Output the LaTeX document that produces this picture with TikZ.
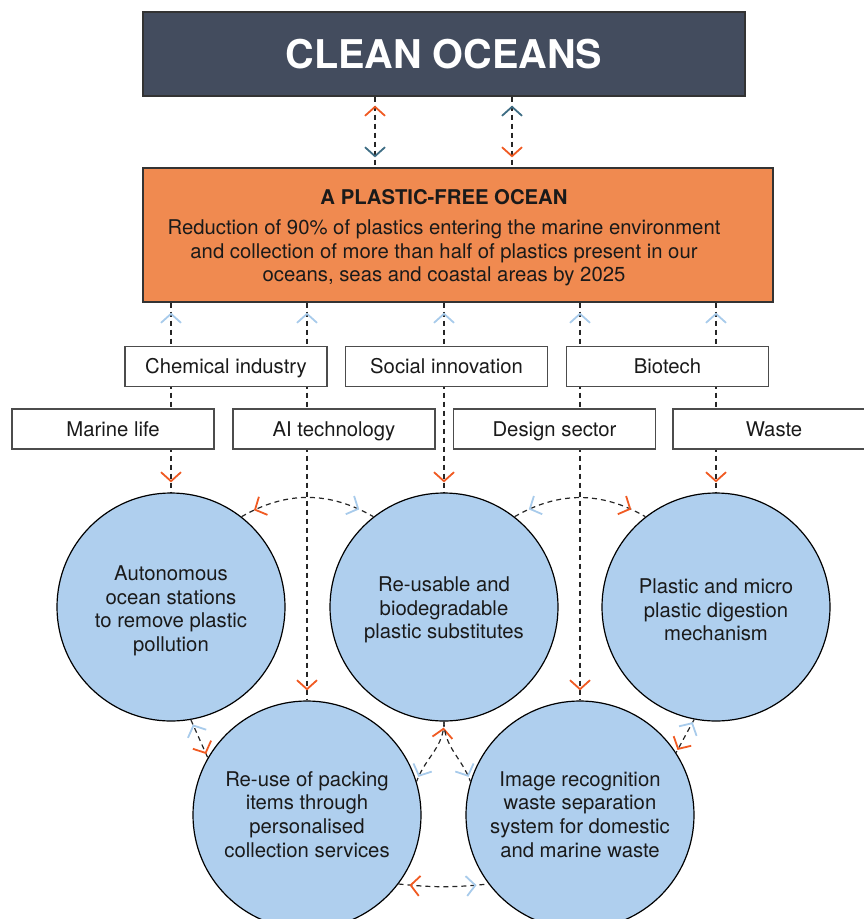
\documentclass[tikz,border=0pt]{standalone}
\usepackage{fontspec}
\setmainfont{TeX Gyre Heros}
\usetikzlibrary{arrows.meta,decorations.markings,calc}
\definecolor{darkbox}{HTML}{434C5E}
\definecolor{orangebox}{HTML}{F08A50}
\definecolor{circfill}{HTML}{AFCFEE}
\definecolor{arrorange}{HTML}{F05A22}
\definecolor{arrblue}{HTML}{A8CBEB}
\definecolor{arrteal}{HTML}{3E6D84}
\definecolor{txt}{HTML}{1A1A1A}
\pgfdeclarelayer{bg}
\pgfsetlayers{bg,main}
\tikzset{
  chev/.tip={Straight Barb[length=9pt,width=20pt,line width=1.8pt]},
  conn/.style={draw=black!85, line width=1.2pt, dash pattern=on 5pt off 4pt},
  headstart/.style 2 args={postaction={decorate,decoration={markings,mark=at position #1 with {\arrowreversed[color=#2]{chev}}}}},
  headend/.style 2 args={postaction={decorate,decoration={markings,mark=at position -#1 with {\arrow[color=#2]{chev}}}}},
  catbox/.style={draw=black!70, line width=1.2pt, fill=white, minimum width=202pt, minimum height=40pt, inner sep=0pt, text height=14.6pt, text depth=0pt, text=txt, font=\fontsize{20.3}{24}\selectfont},
  goal/.style={circle, draw=black, line width=1.2pt, fill=circfill, minimum size=228pt, inner sep=0pt},
  goaltext/.style={align=center, inner sep=0pt, text=txt, font=\fontsize{20.3}{23.6}\selectfont},
}
\begin{document}
\begin{tikzpicture}[x=1pt,y=-1pt]
\useasboundingbox (0,0) rectangle (864,919);
\clip (0,0) rectangle (864,919);
% top boxes
\node[fill=darkbox, draw=black!80, line width=1.2pt, minimum width=602pt, minimum height=84pt, inner sep=0pt, text=white, font=\fontsize{39.6}{44}\selectfont\bfseries] (tb) at (444,54) {CLEAN OCEANS};
\node[fill=orangebox, draw=black!80, line width=1.2pt, minimum width=630pt, minimum height=134pt, inner sep=0pt] (ob) at (458,235) {};
\node[align=center, text=txt, font=\fontsize{20.3}{23.6}\selectfont, inner sep=0pt] (obtext) at (444,238)
  {\textbf{A PLASTIC-FREE OCEAN}\\[6pt]Reduction of 90\% of plastics entering the marine environment\\and collection of more than half of plastics present in our\\oceans, seas and coastal areas by 2025};
% category boxes
\node[catbox] (chem) at (226,366.5) {Chemical industry};
\node[catbox] (soc) at (446.5,366.5) {Social innovation};
\node[catbox] (bio) at (667.5,366.5) {Biotech};
\node[catbox] (mar) at (113,429) {Marine life};
\node[catbox] (ai) at (334,429) {AI technology};
\node[catbox] (des) at (554.5,429) {Design sector};
\node[catbox] (was) at (774,429) {Waste};
% goal circles
\node[goal] (c1) at (171,607) {};
\node[goal] (c2) at (444,607) {};
\node[goal] (c3) at (716,607) {};
\node[goal] (c4) at (307,815) {};
\node[goal] (c5) at (580,815) {};
\node[goaltext] (t1) at ([yshift=-4pt]c1) {Autonomous\\ocean stations\\to remove plastic\\pollution};
\node[goaltext] (t2) at ([yshift=-3pt]c2) {Re-usable and\\biodegradable\\plastic substitutes};
\node[goaltext] (t3) at ([yshift=-3pt]c3) {Plastic and micro\\plastic digestion\\mechanism};
\node[goaltext] (t4) at ([yshift=0.5pt]c4) {Re-use of packing\\items through\\personalised\\collection services};
\node[goaltext] (t5) at ([yshift=0.5pt]c5) {Image recognition\\waste separation\\system for domestic\\and marine waste};
\coordinate (k1) at (375,0);
\coordinate (k2) at (512,0);
\begin{pgfonlayer}{bg}
\draw[conn, headstart={9pt}{arrorange}, headend={10pt}{arrteal}] (tb.south -| k1) -- (ob.north -| k1);
\draw[conn, headstart={9pt}{arrteal}, headend={10pt}{arrorange}] (tb.south -| k2) -- (ob.north -| k2);
\draw[conn, headstart={10pt}{arrblue}, headend={10pt}{arrorange}] (c1 |- ob.south) -- (c1.north);
\draw[conn, headstart={10pt}{arrblue}, headend={10pt}{arrorange}] (c4 |- ob.south) -- (c4.north);
\draw[conn, headstart={10pt}{arrblue}, headend={10pt}{arrorange}] (c2 |- ob.south) -- (c2.north);
\draw[conn, headstart={10pt}{arrblue}, headend={10pt}{arrorange}] (c5 |- ob.south) -- (c5.north);
\draw[conn, headstart={10pt}{arrblue}, headend={10pt}{arrorange}] (c3 |- ob.south) -- (c3.north);
\end{pgfonlayer}
% links between circles
\draw[conn, headstart={14pt}{arrorange}, headend={16pt}{arrblue}] (c1.52) to[bend left=30] (c2.128);
\draw[conn, headstart={16pt}{arrblue}, headend={16pt}{arrorange}] (c2.52) to[bend left=30] (c3.128);
\draw[conn, headstart={5pt}{arrblue}, headend={4pt}{arrorange}] (c1.-80) -- (c4.150);
\draw[conn, headstart={6pt}{arrorange}, headend={5pt}{arrblue}] (c2.south) to[out=-90,in=70] (c4.17);
\draw[conn, headend={5pt}{arrblue}] (c2.south) to[out=-90,in=110] (c5.163);
\draw[conn, headstart={3pt}{arrblue}, headend={3pt}{arrorange}] (c3.-101) -- (c5.33);
\draw[conn, headstart={11pt}{arrorange}, headend={12pt}{arrblue}] (c4.-37) to[bend right=6] (c5.-143);
\end{tikzpicture}
\end{document}
